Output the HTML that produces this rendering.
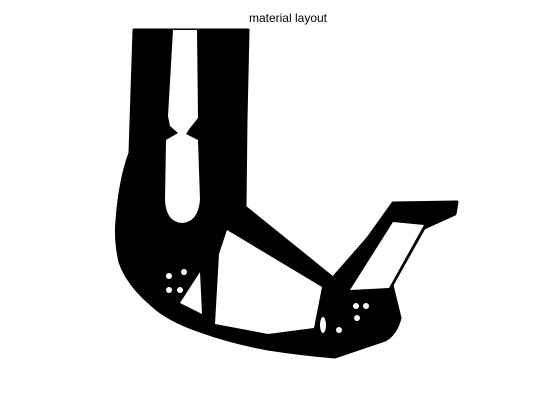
<!DOCTYPE html>
<html><head><meta charset="utf-8"><style>
html,body{margin:0;padding:0;background:#fff;width:560px;height:420px;overflow:hidden}
svg{display:block}
</style></head><body>
<svg width="560" height="420" viewBox="0 0 560 420">
<text x="288" y="22" text-anchor="middle" font-family="Liberation Sans, sans-serif" font-size="12" fill="#000">material layout</text>
<g>
<path fill="#000" stroke="#000" stroke-width="3" stroke-linejoin="round" d="M134,30 L248,30 L246,120 L245,207 L333,278 L368,238 L393,203 L457,202 L455,214 L424,228 L392,285 L400,318 Q396,334 385,340 L335,357 Q300,354 268,349 Q230,342 200,331 Q168,320 152,305 Q128,285 120,262 Q115,240 117,220 Q120,180 130,153 Z"/>
<path fill="#fff" d="M173,30 L197,30 L198,118 L190,128 L186,134 L198,140 L200,200 Q198,222 182,223 Q166,222 165,200 L166,140 L178,133 L170,126 L168,116 Z"/>
<path fill="#fff" d="M227,230 L322,287 L314,328 L268,334 L215,324 L219,254 Z"/>
<path fill="#fff" d="M393,222 L424,225 L389,288 L350,290 Z"/>
<path fill="#fff" d="M180,303 L200,272 L202,314 Z"/>
<g fill="#fff">
<circle cx="169" cy="276" r="3"/><circle cx="184" cy="272" r="3"/><circle cx="169" cy="290" r="3"/><circle cx="180" cy="290" r="3"/>
<circle cx="356" cy="306" r="3"/><circle cx="366" cy="306" r="3"/><circle cx="357" cy="318" r="3"/>
<ellipse cx="323" cy="325" rx="3" ry="8"/><circle cx="339" cy="330" r="3"/>
</g>
</g>
</svg>
</body></html>
